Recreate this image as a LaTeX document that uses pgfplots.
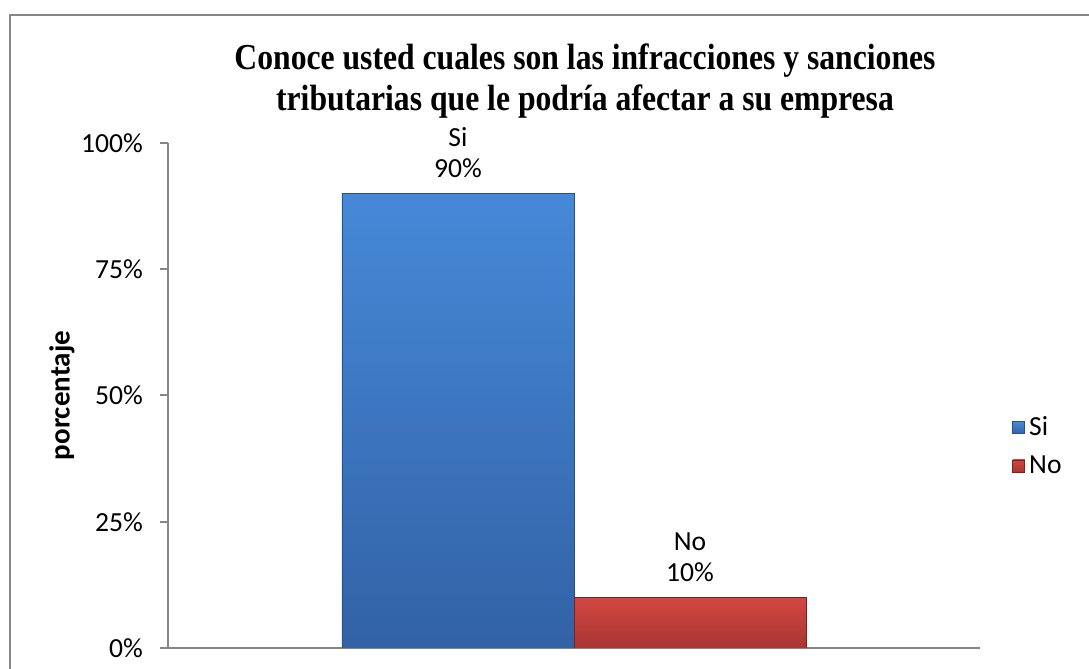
\documentclass[border=0pt]{standalone}
\usepackage{pgfplots}
\pgfplotsset{compat=1.18}
\usepackage{fontspec}
\setmainfont{Carlito}
\newfontfamily\titlefont{Liberation Serif}
\definecolor{framegray}{RGB}{134,134,134}
\definecolor{siTop}{RGB}{70,137,216}
\definecolor{siBot}{RGB}{50,98,166}
\definecolor{siEdge}{RGB}{40,80,140}
\definecolor{noTop}{RGB}{210,70,66}
\definecolor{noBot}{RGB}{168,54,50}
\definecolor{noEdge}{RGB}{120,35,32}
\begin{document}
\begin{tikzpicture}
% picture is 1089 x 669 px at 0.5pt per px
\clip (0,0) rectangle (544.5pt,334.5pt);
\draw[framegray, line width=1pt] (5pt,-20pt) -- (5pt,327pt) -- (600pt,327pt);
\node[font=\titlefont\bfseries\fontsize{17.4}{19.2}\selectfont, align=center, xscale=0.91, yscale=1.05, transform shape]
  at (292.5pt,294pt) {Conoce usted cuales son las infracciones y sanciones\\tributarias que le podría afectar a su empresa};
\begin{axis}[
  at={(84pt,10.5pt)}, anchor=south west,
  scale only axis, width=406pt, height=252.5pt,
  xmin=0, xmax=3.5, ymin=0, ymax=100,
  axis lines=left,
  axis line style={-, framegray, line width=1pt},
  xtick=\empty,
  ytick={0,25,50,75,100},
  yticklabels={0\%,25\%,50\%,75\%,100\%},
  tick align=outside, major tick length=4pt,
  ytick style={framegray, line width=1pt},
  tick label style={font=\fontsize{13.8}{15}\selectfont},
  yticklabel style={xshift=-5pt},
  /pgf/number format/assume math mode=true,
  ylabel={porcentaje},
  ylabel style={font=\bfseries\fontsize{14.5}{16}\selectfont, at={(axis description cs:0,0.5)}, anchor=center, yshift=53pt},
  ybar, bar width=1, bar shift=0pt,
  nodes near coords,
  every node near coord/.append style={align=center, font=\fontsize{13.8}{15.5}\selectfont, yshift=4.5pt},
  legend style={at={(rel axis cs:1,0.5)}, anchor=west, xshift=13pt, yshift=-25.5pt, draw=none, fill=none,
    font=\fontsize{13.8}{15}\selectfont, row sep=4.5pt, cells={anchor=west}},
  legend image code/.code={\path[#1] (0pt,-3pt) rectangle (6pt,3pt);},
]
\addplot[top color=siTop, bottom color=siBot, draw=siEdge, line width=0.4pt,
  nodes near coords={Si\\\pgfmathprintnumber{\pgfplotspointmeta}\%}]
  coordinates {(1.25,90)};
\addlegendentry{Si}
\addplot[top color=noTop, bottom color=noBot, draw=noEdge, line width=0.4pt,
  nodes near coords={No\\\pgfmathprintnumber{\pgfplotspointmeta}\%}]
  coordinates {(2.25,10)};
\addlegendentry{No}
\end{axis}
\end{tikzpicture}
\end{document}
